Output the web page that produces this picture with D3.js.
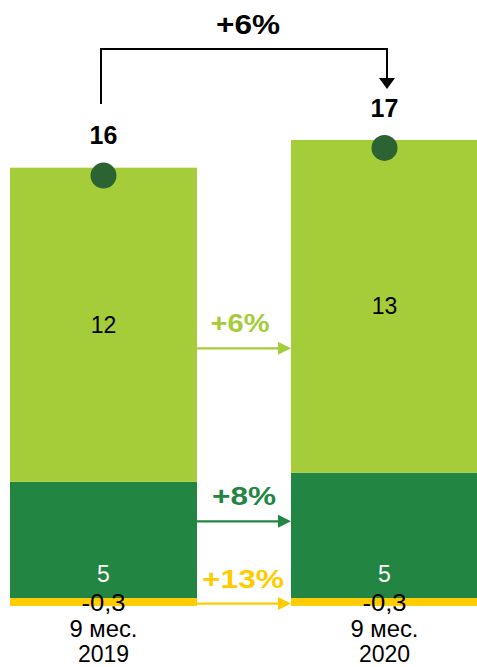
<!DOCTYPE html>
<html><head><meta charset="utf-8">
<script src="https://cdn.jsdelivr.net/npm/d3@7"></script>
<style>body{margin:0;background:#fff}svg{display:block;font-family:"Liberation Sans",Arial,sans-serif}</style>
</head><body><svg id="c" width="477" height="667"></svg>
<script>
const categories = ["9 мес.\n2019", "9 мес.\n2020"];
const lightValues = [11.9, 12.6];
const darkValues = [4.4, 4.75];
const yellowValues = [-0.3, -0.3];
const lightLabels = ["12", "13"];
const darkLabels = ["5", "5"];
const yellowLabels = ["-0,3", "-0,3"];
const totalLabels = ["16", "17"];
const growthLabels = ["+6%", "+8%", "+13%"];
const totalGrowth = "+6%";

const C = {light:"#a5cd39", dark:"#228642", yellow:"#ffcc00", dot:"#2b6333"};
const svg = d3.select("#c");
const x = d3.scaleBand().domain(categories).range([10, 478]).paddingInner(0.3345).paddingOuter(0);
const y = d3.scaleLinear().domain([0, 17.5]).range([598, 598 - 17.5*26.4]);
const bw = x.bandwidth();

const data = categories.map((c,i)=>({c, l:lightValues[i], d:darkValues[i], n:yellowValues[i], total: lightValues[i]+darkValues[i]+yellowValues[i]}));

function label(sel, xx, yy, txt, size, color, bold, len){
  const t = sel.append("text").attr("x",xx).attr("y",yy).attr("dy","0.35em").attr("text-anchor","middle")
    .attr("font-size",size).attr("fill",color).text(txt);
  if(bold) t.attr("font-weight","bold");
  if(len) t.attr("textLength",len).attr("lengthAdjust","spacingAndGlyphs");
  return t;
}

const g = svg.append("g");
data.forEach((d,i)=>{
  const x0 = x(d.c);
  g.append("rect").attr("x",x0).attr("width",bw).attr("y",y(0)).attr("height",y(d.n)-y(0)).attr("fill",C.yellow);
  g.append("rect").attr("x",x0).attr("width",bw).attr("y",y(d.d)).attr("height",y(0)-y(d.d)).attr("fill",C.dark);
  g.append("rect").attr("x",x0).attr("width",bw).attr("y",y(d.d+d.l)).attr("height",y(d.d)-y(d.d+d.l)).attr("fill",C.light);
  const cx = x0 + bw/2;
  g.append("circle").attr("cx",cx).attr("cy",y(d.total)).attr("r",13).attr("fill",C.dot);
  label(g, cx, y(d.d + d.l/2), lightLabels[i], 23, "#000");
  label(g, cx, y(0)-24, darkLabels[i], 23, "#fff");
  label(g, cx, y(0)+5, yellowLabels[i], 23, "#000", false, 44);
  const lines = d.c.split("\n");
  label(g, cx, 629, lines[0], 23, "#000", false, 68);
  label(g, cx, 654, lines[1], 23, "#000");
  label(g, cx, y(d.d+d.l)-32, totalLabels[i], 25, "#000", true);
});

const xa0 = x(categories[0]) + bw, xa1 = x(categories[1]);
const arrows = [
  {yv: data[0].d + data[0].l*0.425, color:C.light, label:growthLabels[0], len:59, dx:-4},
  {yv: data[0].d*0.66, color:C.dark, label:growthLabels[1], len:64, dx:0},
  {yv: data[0].n*0.7, color:C.yellow, label:growthLabels[2], len:82, dx:-1}
];
arrows.forEach(a=>{
  const yy = y(a.yv);
  svg.append("line").attr("x1",xa0).attr("x2",xa1-12).attr("y1",yy).attr("y2",yy).attr("stroke",a.color).attr("stroke-width",2.2);
  svg.append("path").attr("d",`M${xa1-13},${yy-6.5}L${xa1},${yy}L${xa1-13},${yy+6.5}Z`).attr("fill",a.color);
  label(svg, (xa0+xa1)/2 + a.dx, yy-25, a.label, 26, a.color, true, a.len);
});

const bx0 = 101, bx1 = 387, by = 49;
svg.append("path").attr("d",`M${bx0},104V${by}H${bx1}V80`).attr("fill","none").attr("stroke","#000").attr("stroke-width",2);
svg.append("path").attr("d",`M${bx1-8},78L${bx1},89L${bx1+8},78Z`).attr("fill","#000");
label(svg, 248, 25, totalGrowth, 27, "#000", true, 64);
</script></body></html>
